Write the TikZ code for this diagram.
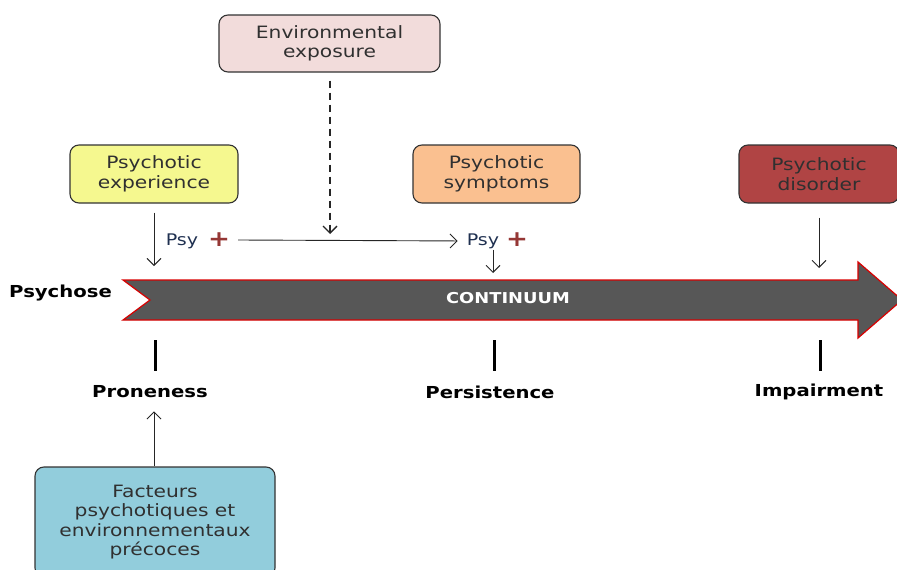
\documentclass[tikz,border=0pt]{standalone}
\usepackage{fontspec}
\setmainfont{DejaVu Sans}[FakeStretch=1.19]
\usetikzlibrary{arrows.meta}
\definecolor{envfill}{HTML}{F2DCDB}
\definecolor{expfill}{HTML}{F5F88F}
\definecolor{symfill}{HTML}{FAC090}
\definecolor{disfill}{HTML}{B04444}
\definecolor{facfill}{HTML}{92CDDC}
\definecolor{bodyfill}{HTML}{575757}
\definecolor{plusred}{HTML}{953735}
\definecolor{psyblue}{HTML}{1F3050}
\definecolor{boxtext}{HTML}{303030}
\tikzset{
  boxnode/.style={draw=black!80, line width=1.1pt, rounded corners=9pt, align=center, inner sep=0pt,
    text=boxtext, font=\fontsize{17}{19.5}\selectfont},
  conn/.style={draw=black!85, line width=0.9pt, -{Straight Barb[length=7pt,width=14pt]}},
  tickbar/.style={line width=3pt, black},
  lbl/.style={font=\bfseries\fontsize{16.5}{19}\selectfont, text=black},
  psy/.style={font=\fontsize{16}{19}\selectfont, text=psyblue, inner sep=1pt},
  plus/.style={text=plusred, font=\bfseries\fontsize{22}{22}\selectfont, inner sep=0pt}
}
\begin{document}
\begin{tikzpicture}[x=1pt,y=-1pt]
\useasboundingbox (0,0) rectangle (897,570);
\clip (0,0) rectangle (897,570);
% boxes
\node[boxnode, fill=envfill, minimum width=221pt, minimum height=57pt] (env) at (329.5,43.5) {Environmental\\exposure};
\node[boxnode, fill=expfill, minimum width=168pt, minimum height=58pt] (exp) at (154,174) {Psychotic\\experience};
\node[boxnode, fill=symfill, minimum width=167pt, minimum height=58pt] (sym) at (496.5,174) {Psychotic\\symptoms};
\node[boxnode, fill=disfill, minimum width=160pt, minimum height=58pt] (dis) at (819,174) {Psychotic\\disorder};
\node[boxnode, fill=facfill, minimum width=240pt, minimum height=110pt] (fac) at (155,522) {Facteurs\\psychotiques et\\environnementaux\\précoces};
% big arrow
\path[fill=bodyfill, draw=red!85!black, line width=1.2pt]
  (123,280) -- (858,280) -- (858,262) -- (902,300) -- (858,338) -- (858,320) -- (123,320) -- (150,300) -- cycle;
\node[font=\bfseries\fontsize{15}{15}\selectfont, text=white] (cont) at (508,298) {CONTINUUM};
\node[lbl, anchor=west, inner sep=0pt] (psychose) at (9,293) {Psychose};
% psy labels
\node[psy] (psy1) at (182,241) {Psy};
\node[plus] (p1) at (219,240) {+};
\node[psy] (psy2) at (483,241) {Psy};
\node[plus] (p2) at (517,240) {+};
% targets
\coordinate (t1) at (154,266);
\coordinate (t2) at (493,273);
\coordinate (t3) at (819,268);
\coordinate (envhit) at (330,234);
\coordinate (hstart) at (238,240);
% connectors
\draw[conn] (exp.south -| t1) ++(0,9) -- (t1);
\draw[conn, dash pattern=on 7pt off 5pt, line width=1.4pt] (env.south -| envhit) ++(0,8) -- (envhit);
\draw[conn, shorten >=8pt] (hstart) -- (psy2.west);
\draw[conn] (psy2.south -| t2) -- (t2);
\draw[conn] (dis.south -| t3) ++(0,14) -- (t3);
% ticks
\draw[tickbar] (155,340) -- (155,371);
\draw[tickbar] (494,340) -- (494,371);
\draw[tickbar] (820,340) -- (820,371);
% bottom labels
\node[lbl] (pron) at (150,392) {Proneness};
\node[lbl] (pers) at (490,392) {Persistence};
\node[lbl] (imp) at (819,392) {Impairment};
\draw[conn] (fac.north -| pron) ++(4,0) -- ++(0,-55);
\end{tikzpicture}
\end{document}
